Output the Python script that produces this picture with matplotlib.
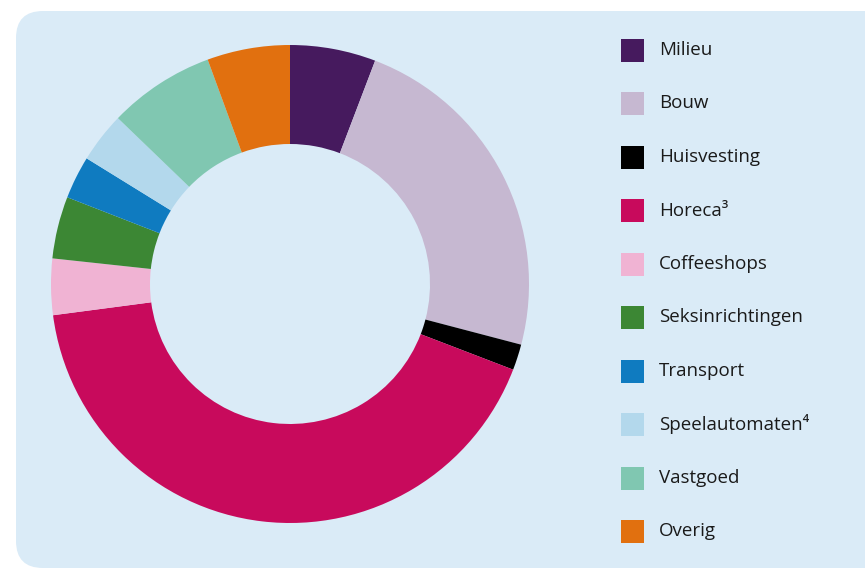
import matplotlib
matplotlib.use("Agg")
import matplotlib.pyplot as plt
from matplotlib.patches import FancyBboxPatch, Rectangle

plt.rcParams['font.family'] = ['Open Sans', 'DejaVu Sans']

labels = ["Milieu", "Bouw", "Huisvesting", "Horeca³", "Coffeeshops",
          "Seksinrichtingen", "Transport", "Speelautomaten⁴", "Vastgoed", "Overig"]
values = [5.8, 23.3, 1.75, 42.1, 3.8, 4.2, 2.9, 3.4, 7.2, 5.6]
colors = ["#461a5e", "#c6b8d1", "#000000", "#c80a5c", "#f0b3d3",
          "#3c8734", "#0f7bc0", "#b3d8ec", "#80c7b1", "#e1700f"]

W, H = 865, 568
fig = plt.figure(figsize=(W / 100, H / 100), dpi=100)
ax = fig.add_axes([0, 0, 1, 1])
ax.set_xlim(0, W)
ax.set_ylim(0, H)
ax.set_aspect('equal')
ax.axis('off')

bg = FancyBboxPatch((16, 0), 900, H - 11,
                    boxstyle="round,pad=0,rounding_size=27",
                    facecolor="#daebf7", edgecolor="none", zorder=0)
ax.add_patch(bg)

ax.pie(values, colors=colors, startangle=90, counterclock=False,
       center=(290, H - 284), radius=239, frame=True,
       wedgeprops=dict(width=99, edgecolor="none", linewidth=0))
ax.set_xlim(0, W)
ax.set_ylim(0, H)
ax.axis('off')

# legend
y0, step = 50, 53.5
for i, (lab, col) in enumerate(zip(labels, colors)):
    yc = H - (y0 + i * step)
    ax.add_patch(Rectangle((621, yc - 11.5), 23, 23, facecolor=col,
                           edgecolor="none", zorder=3))
    ax.text(659, yc, lab, va='center', ha='left', fontsize=13.5,
            color="#1a1a1a", zorder=3)

fig.savefig("out.png", dpi=100)
